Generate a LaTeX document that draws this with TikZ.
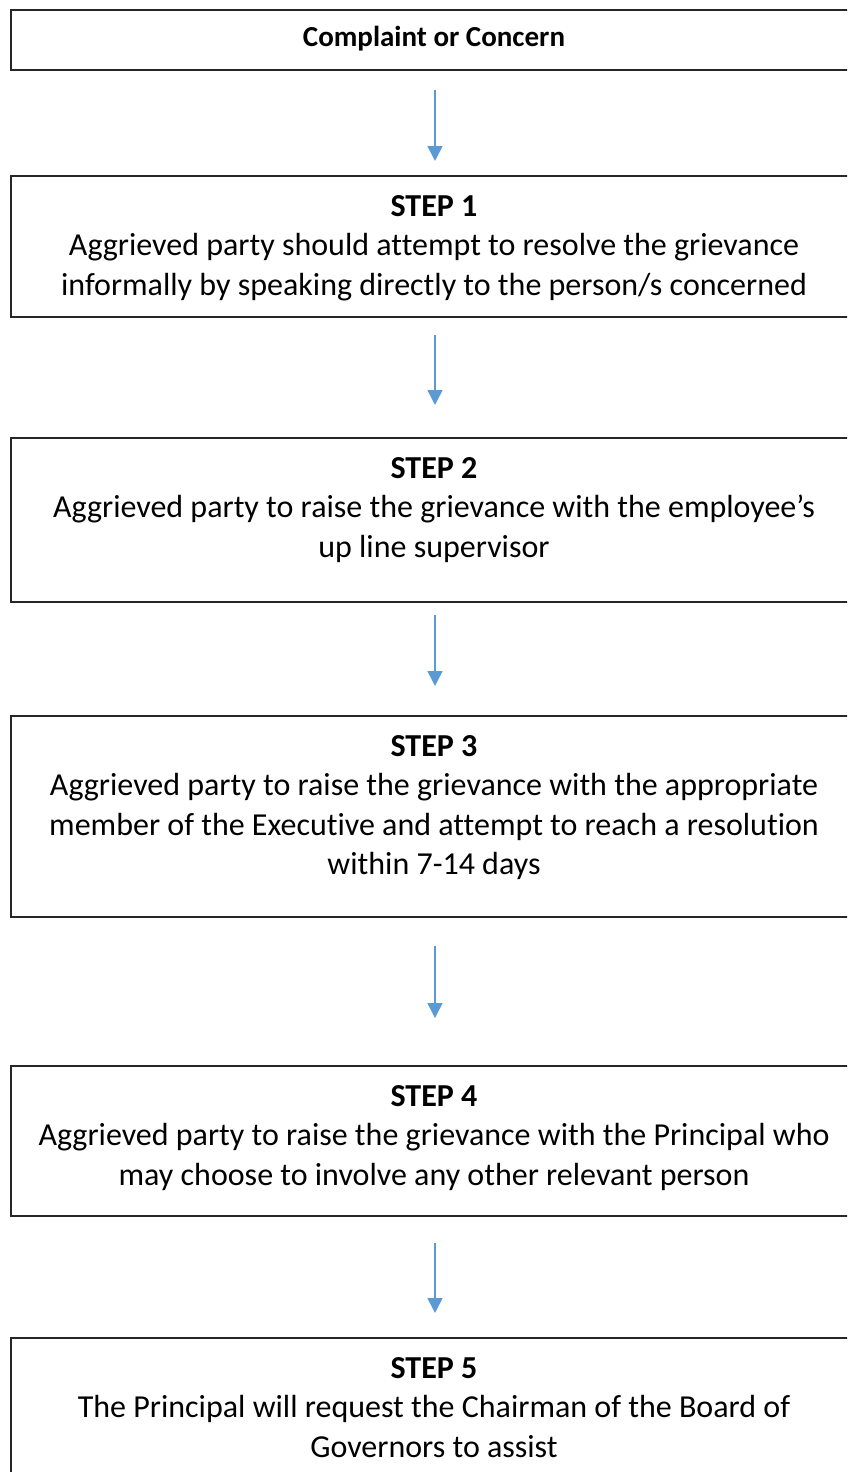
\documentclass[tikz,border=0pt]{standalone}
\usepackage{fontspec}
\setmainfont{Carlito}[RawFeature=-liga]
\usetikzlibrary{arrows.meta}

\begin{document}
\begin{tikzpicture}[x=1pt, y=-1pt]
			% Stili per caselle, testi e frecce
			\tikzset{casella/.style={draw=black!85, line width=1.8pt, minimum width=848pt, inner sep=0pt, anchor=north},
				testo/.style={align=center, inner sep=0pt, anchor=north, font=\fontsize{32}{39.5}\selectfont},
				freccia/.style={draw={rgb,255:red,91;green,155;blue,213}, line width=1.5pt, -{Triangle[width=15pt,length=15pt]}}}
			
			\clip (0,0) rectangle (847,1472);
			\useasboundingbox (0,0) rectangle (847,1472);
			
			% Caselle
			\node[casella, minimum height=60pt] (C0) at (435, 9) {};
			\node[casella, minimum height=141pt] (C1) at (435, 175) {};
			\node[casella, minimum height=164pt] (C2) at (435, 437) {};
			\node[casella, minimum height=201pt] (C3) at (435, 715) {};
			\node[casella, minimum height=150pt] (C4) at (435, 1065) {};
			\node[casella, minimum height=220pt] (C5) at (435, 1337) {};
			
			% Testi
			\node[inner sep=0pt, anchor=base, font=\fontsize{29}{35}\selectfont\bfseries] (T0) at (434, 47) {Complaint or Concern};
			\node[testo] (T1) at (434, 195) {\textbf{STEP 1}\\Aggrieved party should attempt to resolve the grievance\\informally by speaking directly to the person/s concerned};
			\node[testo] (T2) at (434, 457) {\textbf{STEP 2}\\Aggrieved party to raise the grievance with the employee’s\\up line supervisor};
			\node[testo] (T3) at (434, 735) {\textbf{STEP 3}\\Aggrieved party to raise the grievance with the appropriate\\member of the Executive and attempt to reach a resolution\\within 7-14 days};
			\node[testo] (T4) at (434, 1085) {\textbf{STEP 4}\\Aggrieved party to raise the grievance with the Principal who\\may choose to involve any other relevant person};
			\node[testo] (T5) at (434, 1357) {\textbf{STEP 5}\\The Principal will request the Chairman of the Board of\\Governors to assist};
			
			% Frecce
			\draw[freccia, shorten <=19pt, shorten >=14pt] (C0.south) -- (C1.north);
			\draw[freccia, shorten <=17pt, shorten >=32pt] (C1.south) -- (C2.north);
			\draw[freccia, shorten <=12pt, shorten >=29pt] (C2.south) -- (C3.north);
			\draw[freccia, shorten <=28pt, shorten >=47pt] (C3.south) -- (C4.north);
			\draw[freccia, shorten <=26pt, shorten >=24pt] (C4.south) -- (C5.north);
		\end{tikzpicture}
\end{document}
